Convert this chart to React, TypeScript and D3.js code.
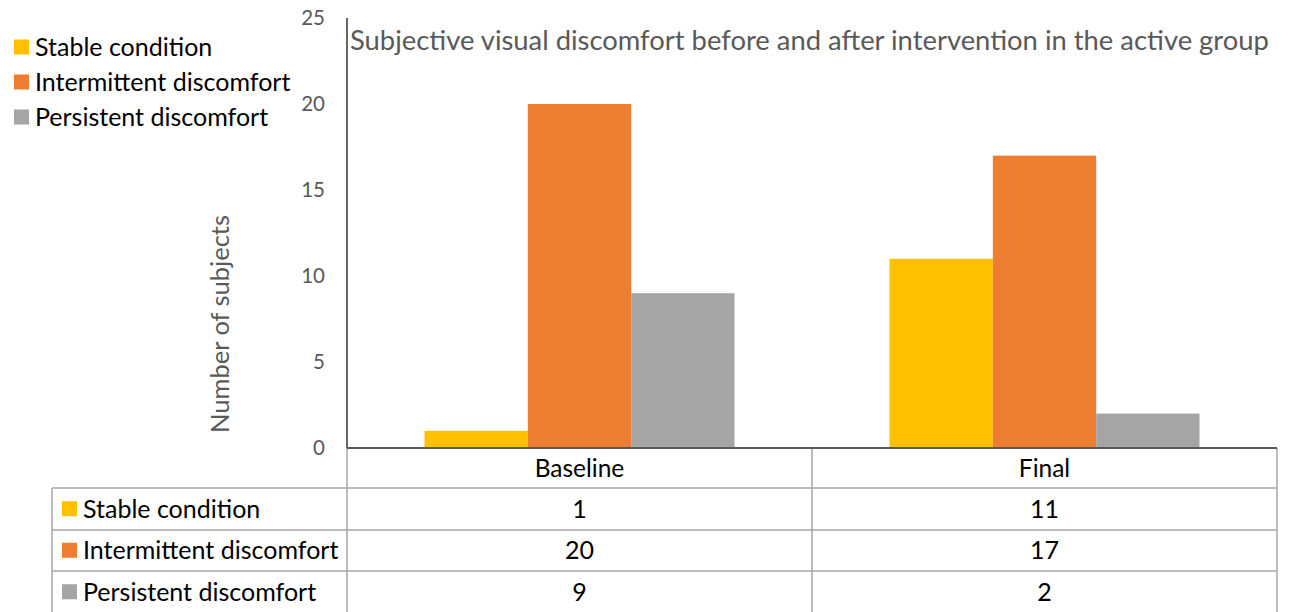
import { useRef, useEffect } from "react";
import * as d3 from "d3";

const categories: string[] = ["Baseline", "Final"];
const seriesNames: string[] = [
    "Stable condition",
    "Intermittent discomfort",
    "Persistent discomfort",
];
const stableValues: number[] = [1, 11];
const intermittentValues: number[] = [20, 17];
const persistentValues: number[] = [9, 2];
const yTicks: number[] = [0, 5, 10, 15, 20, 25];
const seriesColors: string[] = ["#FFC000", "#ED7D31", "#A5A5A5"];

const title =
    "Subjective visual discomfort before and after intervention in the active group";
const yTitle = "Number of subjects";

const FONT = "Lato, 'Noto Sans', sans-serif";

const App: React.FC = () => {
    const svgRef = useRef<SVGSVGElement | null>(null);

    useEffect(() => {
        if (!svgRef.current) return;

        const width = 1290;
        const height = 612;
        const plotLeft = 347;
        const plotRight = 1277;
        const plotTop = 18;
        const plotBottom = 448;
        const tableLeft = 52;
        const rowLines = [488, 530, 571];
        const rowH = 41.5;

        const values = [stableValues, intermittentValues, persistentValues];

        const x0 = d3
            .scaleBand<string>()
            .domain(categories)
            .range([plotLeft, plotRight]);
        const x1 = d3
            .scaleBand<string>()
            .domain(seriesNames)
            .range([0, x0.bandwidth()])
            .paddingOuter(0.75);
        const y = d3
            .scaleLinear()
            .domain([0, 25])
            .range([plotBottom, plotTop]);
        const color = d3
            .scaleOrdinal<string, string>()
            .domain(seriesNames)
            .range(seriesColors);

        const svg = d3.select(svgRef.current);
        svg.selectAll("*").remove();
        svg.attr("width", width)
            .attr("height", height)
            .attr("viewBox", `0 0 ${width} ${height}`)
            .style("font-family", FONT);

        // bars
        const groups = svg
            .append("g")
            .selectAll("g")
            .data(categories)
            .join("g")
            .attr("transform", (c) => `translate(${x0(c)},0)`);

        groups
            .selectAll("rect")
            .data((_c, ci) =>
                seriesNames.map((s, si) => ({ s, v: values[si][ci] })),
            )
            .join("rect")
            .attr("x", (d) => x1(d.s) ?? 0)
            .attr("width", x1.bandwidth())
            .attr("y", (d) => y(d.v))
            .attr("height", (d) => y(0) - y(d.v))
            .attr("fill", (d) => color(d.s));

        // y axis ticks
        svg.append("g")
            .selectAll("text")
            .data(yTicks)
            .join("text")
            .attr("x", 325)
            .attr("y", (d) => y(d))
            .attr("dy", "0.36em")
            .attr("text-anchor", "end")
            .attr("fill", "#595959")
            .attr("font-size", 20.5)
            .text((d) => d);

        svg.append("text")
            .attr("transform", `translate(229,324) rotate(-90)`)
            .attr("text-anchor", "middle")
            .attr("fill", "#595959")
            .attr("font-size", 25.5)
            .text(yTitle);

        svg.append("text")
            .attr("x", 350)
            .attr("y", 50)
            .attr("fill", "#595959")
            .attr("font-size", 27.4)
            .text(title);

        // table grid
        const grid = svg.append("g").attr("stroke", "#A6A6A6").attr("stroke-width", 1.5);
        rowLines.forEach((ly) => {
            grid.append("line")
                .attr("x1", tableLeft)
                .attr("x2", plotRight)
                .attr("y1", ly)
                .attr("y2", ly);
        });
        [plotLeft, ...categories.map((c) => (x0(c) ?? 0) + x0.bandwidth())].forEach(
            (lx) => {
                grid.append("line")
                    .attr("x1", lx)
                    .attr("x2", lx)
                    .attr("y1", plotBottom)
                    .attr("y2", height);
            },
        );
        grid.append("line")
            .attr("x1", tableLeft)
            .attr("x2", tableLeft)
            .attr("y1", rowLines[0])
            .attr("y2", height);

        // axis lines
        svg.append("line")
            .attr("x1", plotLeft)
            .attr("x2", plotLeft)
            .attr("y1", plotTop)
            .attr("y2", plotBottom)
            .attr("stroke", "#000")
            .attr("stroke-width", 1.2);
        svg.append("line")
            .attr("x1", plotLeft)
            .attr("x2", plotRight)
            .attr("y1", plotBottom)
            .attr("y2", plotBottom)
            .attr("stroke", "#595959")
            .attr("stroke-width", 2);

        // table header
        svg.append("g")
            .selectAll("text")
            .data(categories)
            .join("text")
            .attr("x", (c) => (x0(c) ?? 0) + x0.bandwidth() / 2)
            .attr("y", (plotBottom + rowLines[0]) / 2)
            .attr("dy", "0.36em")
            .attr("text-anchor", "middle")
            .attr("font-size", 24.5)
            .attr("fill", "#000")
            .text((c) => c);

        // table rows
        const rows = svg
            .append("g")
            .selectAll("g")
            .data(seriesNames)
            .join("g")
            .attr("transform", (_s, i) => `translate(0,${rowLines[0] + i * rowH + rowH / 2})`);

        rows.append("rect")
            .attr("x", 62)
            .attr("y", -7.5)
            .attr("width", 15)
            .attr("height", 15)
            .attr("fill", (s) => color(s));
        rows.append("text")
            .attr("x", 83)
            .attr("dy", "0.36em")
            .attr("font-size", 25)
            .attr("fill", "#000")
            .text((s) => s);
        rows.selectAll("text.val")
            .data((_s, si) => categories.map((c, ci) => ({ c, v: values[si][ci] })))
            .join("text")
            .attr("class", "val")
            .attr("x", (d) => (x0(d.c) ?? 0) + x0.bandwidth() / 2)
            .attr("dy", "0.36em")
            .attr("text-anchor", "middle")
            .attr("font-size", 25)
            .attr("fill", "#000")
            .text((d) => d.v);

        // legend
        const legend = svg
            .append("g")
            .selectAll("g")
            .data(seriesNames)
            .join("g")
            .attr("transform", (_s, i) => `translate(0,${47 + i * 35})`);
        legend.append("rect")
            .attr("x", 14)
            .attr("y", -7.5)
            .attr("width", 15)
            .attr("height", 15)
            .attr("fill", (s) => color(s));
        legend.append("text")
            .attr("x", 35)
            .attr("dy", "0.36em")
            .attr("font-size", 25)
            .attr("fill", "#000")
            .text((s) => s);
    }, []);

    return (
        <svg
            ref={svgRef}
            style={{ position: "absolute", left: 0, top: 0, display: "block" }}
        />
    );
};

export default App;
